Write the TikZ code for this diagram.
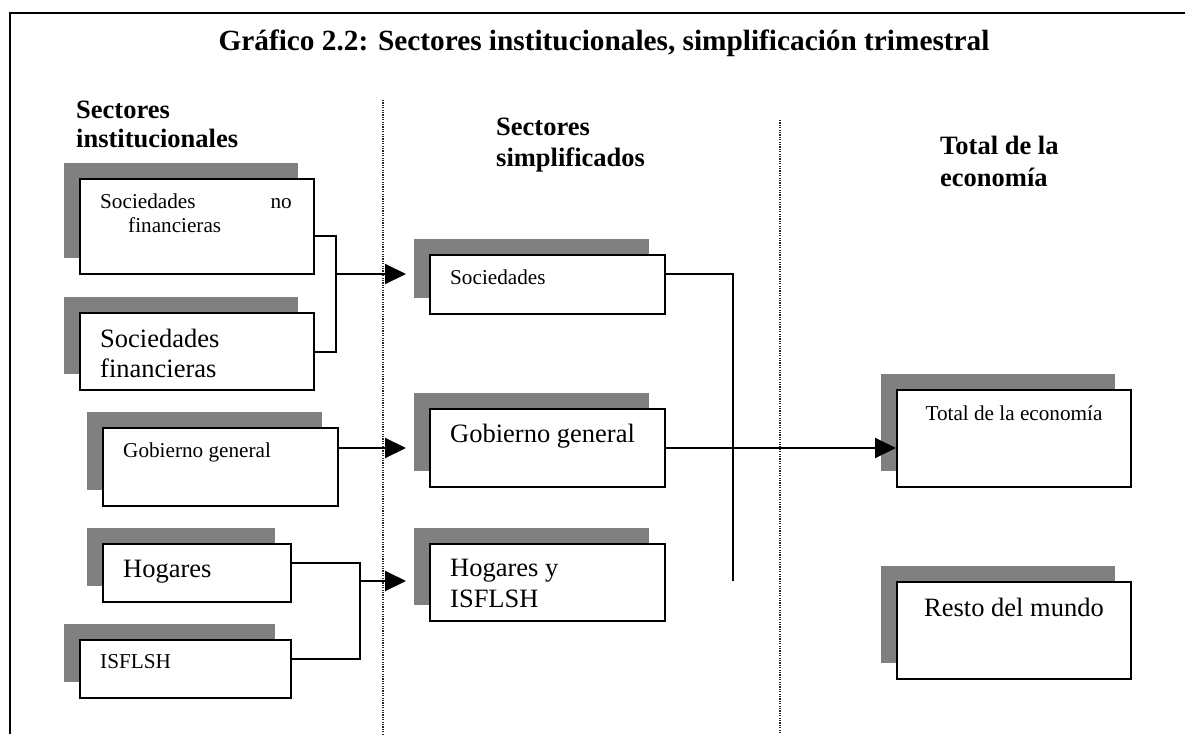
\documentclass[tikz,border=0pt]{standalone}
\usepackage{fontspec}
\setmainfont{Liberation Serif}
\usetikzlibrary{arrows.meta,shadows}

\begin{document}
\begin{tikzpicture}[
        x=1pt, y=-1pt,
        sector/.style={draw, line width=2pt, fill=white, anchor=north west, inner sep=0pt,
            drop shadow={shadow xshift=-16.5pt, shadow yshift=16.5pt, fill=black!50, opacity=1}},
        boxtext/.style={anchor=base west, inner sep=0pt, font=\fontsize{26.5}{31}\selectfont},
        smalltext/.style={boxtext, font=\fontsize{21.2}{25}\selectfont},
        heading/.style={anchor=base west, inner sep=0pt, font=\fontsize{26.5}{31}\selectfont\bfseries},
        column line/.style={draw, line width=1.1pt, dash pattern=on 1.1pt off 1.3pt, black!85},
        link/.style={draw, line width=2pt},
        flow/.style={link, -{Triangle[length=21pt,width=20pt]}}
    ]
    \useasboundingbox (0,0) rectangle (1185,734);
    % frame and column separators
    \draw[line width=2.4pt] (10,734) -- (10,13) -- (1185,13);
    \draw[column line] (383,100) -- (383,734);
    \draw[column line] (780,120) -- (780,734);
    % title and headings
    \node[anchor=base, inner sep=0pt, font=\fontsize{29.3}{34}\selectfont\bfseries] (title) at (604,50)
        {Gráfico 2.2: Sectores institucionales, simplificación trimestral};
    \node[heading] (h1a) at (76,118) {Sectores};
    \node[heading] (h1b) at (76,147) {institucionales};
    \node[heading] (h2a) at (496,135) {Sectores};
    \node[heading] (h2b) at (496,166) {simplificados};
    \node[heading] (h3a) at (940,154) {Total de la};
    \node[heading] (h3b) at (940,186) {economía};
    % institutional sectors
    \node[sector, minimum width=234, minimum height=95] (snf) at (79,178) {};
    \node[sector, minimum width=234, minimum height=77] (sf) at (79,312) {};
    \node[sector, minimum width=235, minimum height=78] (ggl) at (102,427) {};
    \node[sector, minimum width=188, minimum height=58] (hog) at (102,543) {};
    \node[sector, minimum width=211, minimum height=58] (isf) at (79,639) {};
    \node[smalltext] at ([shift={(21,30)}]snf.north west) {Sociedades};
    \node[smalltext, anchor=base east] at ([shift={(213,30)}]snf.north west) {no};
    \node[smalltext] at ([shift={(49,54)}]snf.north west) {financieras};
    \node[boxtext] at ([shift={(21,35)}]sf.north west) {Sociedades};
    \node[boxtext] at ([shift={(21,65)}]sf.north west) {financieras};
    \node[smalltext] at ([shift={(21,30)}]ggl.north west) {Gobierno general};
    \node[boxtext] at ([shift={(21,34)}]hog.north west) {Hogares};
    \node[smalltext] at ([shift={(21,29)}]isf.north west) {ISFLSH};
    % simplified sectors
    \node[sector, minimum width=235, minimum height=59] (soc) at (429,254) {};
    \node[sector, minimum width=235, minimum height=78] (gob) at (429,408) {};
    \node[sector, minimum width=235, minimum height=77] (hyi) at (429,543) {};
    \node[smalltext] at ([shift={(21,30)}]soc.north west) {Sociedades};
    \node[boxtext] at ([shift={(21,34)}]gob.north west) {Gobierno general};
    \node[boxtext] at ([shift={(21,33)}]hyi.north west) {Hogares y};
    \node[boxtext] at ([shift={(21,64)}]hyi.north west) {ISFLSH};
    % total economy
    \node[sector, minimum width=234, minimum height=97] (tot) at (896,389) {};
    \node[sector, minimum width=234, minimum height=97] (rdm) at (896,581) {};
    \node[smalltext, anchor=base] at ([shift={(0,31)}]tot.north) {Total de la economía};
    \node[boxtext, anchor=base] at ([shift={(0,35)}]rdm.north) {Resto del mundo};
    % connectors
    \coordinate (j1) at (336,274);
    \coordinate (j2) at (360,581);
    \coordinate (j3) at (733,581);
    \draw[link] ([yshift=-9.5pt]snf.east) -| (j1) |- (sf.east);
    \draw[flow, shorten >=23pt] (j1) -- (j1 -| soc.west);
    \draw[flow, shorten >=23pt] (gob.west -| ggl.east) -- (gob.west);
    \draw[link] ([yshift=10pt]hog.east) -| (j2) |- ([yshift=10pt]isf.east);
    \draw[flow, shorten >=23pt] (j2) -- (j2 -| hyi.west);
    \draw[link] ([yshift=10.5pt]soc.east) -| (j3);
    \draw[flow] (gob.east) -- (gob.east -| tot.west);
\end{tikzpicture}
\end{document}
